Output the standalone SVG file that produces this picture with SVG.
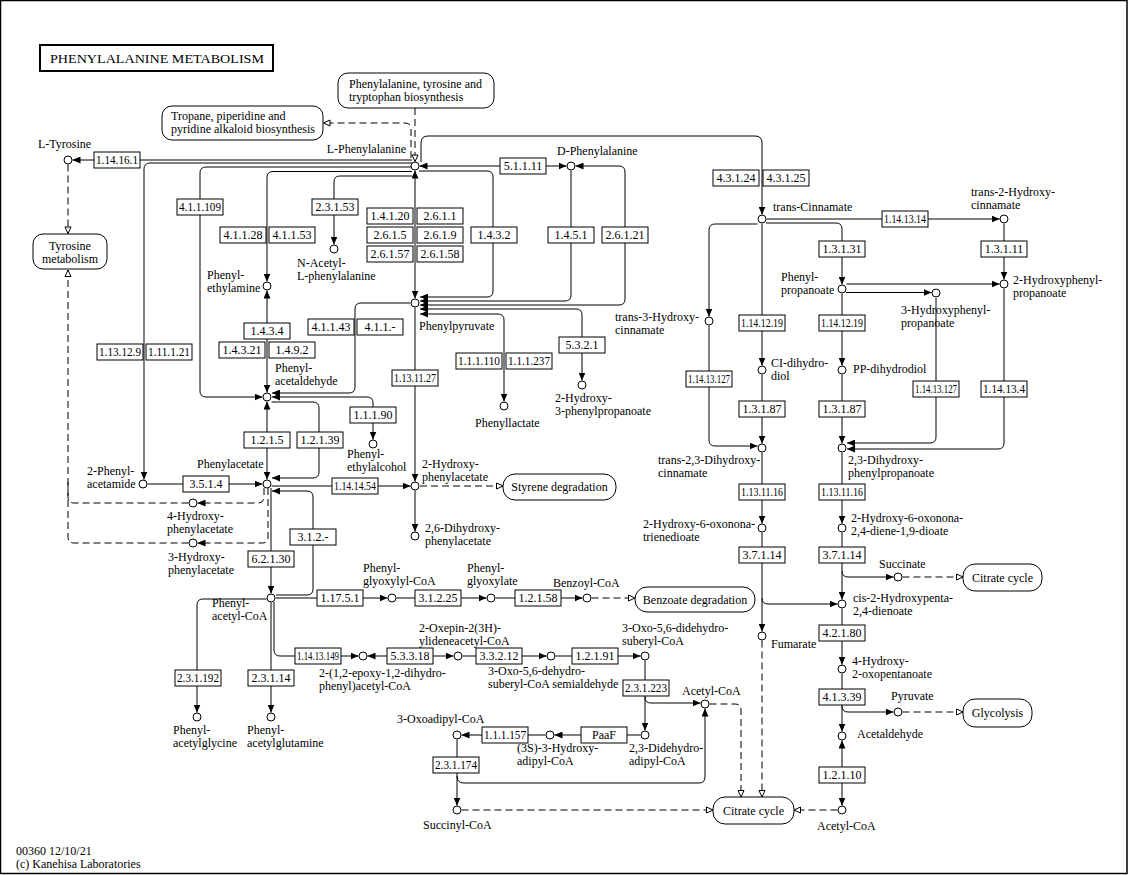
<svg xmlns="http://www.w3.org/2000/svg" width="1131" height="875" viewBox="0 0 1131 875">
<style>
text{font-family:"Liberation Serif","Times New Roman",serif;font-size:12px;fill:#000}
.s{fill:none;stroke:#000;stroke-width:1}
.d{stroke-dasharray:7,4}
.e{marker-end:url(#a)}
.b{marker-start:url(#a);marker-end:url(#a)}
.oe{marker-end:url(#o)}
.c{fill:#fff;stroke:#000;stroke-width:1}
.en{fill:#fff;stroke:#000;stroke-width:1}
.m{fill:#fff;stroke:#000;stroke-width:1}
.ct{text-anchor:middle}
</style>
<defs>
<marker id="a" viewBox="0 0 8 7" refX="8" refY="3.5" markerWidth="8" markerHeight="7" markerUnits="userSpaceOnUse" orient="auto-start-reverse"><path d="M0,0L8,3.5L0,7z" fill="#000"/></marker>
<marker id="o" viewBox="0 0 8 8" refX="7.5" refY="4" markerWidth="8" markerHeight="8" markerUnits="userSpaceOnUse" orient="auto"><path d="M1,1L7.5,4L1,7z" fill="#fff" stroke="#000" stroke-width="1"/></marker>
</defs>
<rect x="0.5" y="0.5" width="1126.5" height="873" fill="#fff" stroke="#000" stroke-width="1.5"/>
<g id="title"><rect x="40" y="45" width="233" height="26" fill="#fff" stroke="#000" stroke-width="2"/><text x="50" y="63" font-size="13" textLength="214" lengthAdjust="spacingAndGlyphs">PHENYLALANINE  METABOLISM</text></g>

<g id="connectors">
<path class="s e" d="M412,160H72.5"/>
<path class="s e" d="M412,163H150Q144,163 144,169V479.5"/>
<path class="s e" d="M412,167H206Q200,167 200,173V391Q200,397 206,397H262.5"/>
<path class="s e" d="M412,171.5H273Q267,171.5 267,177.5V281.5"/>
<path class="s e" d="M412,176H340Q334,176 334,182V244.5"/>
<path class="s b" d="M415,170.5V298.5"/>
<path class="s b" d="M419.5,166H566.5"/>
<path class="s e" d="M421,162V143Q421,136 428,136H755Q762,136 762,143V214.5"/>
<path class="s e" d="M419,171H487Q493,171 493,177V291Q493,297 487,297H420"/>
<path class="s e" d="M571,170.5V295Q571,301 565,301H420"/>
<path class="s b" d="M575.5,166H619Q625,166 625,172V299Q625,305 619,305H420"/>
<path class="s b" d="M420,309H576Q582,309 582,315V380.5"/>
<path class="s b" d="M420,314H498Q504,314 504,320V401.5"/>
<path class="s e" d="M410.5,303H361Q355,303 355,309V387Q355,393 349,393H272"/>
<path class="s b" d="M272,397H367Q373,397 373,403V439.5"/>
<path class="s e" d="M271.5,402H313Q319,402 319,408V472Q319,478 313,478H272"/>
<path class="s b" d="M267,290.5V392.5"/>
<path class="s b" d="M267,401.5V479.5"/>
<path class="s e" d="M147.5,484H262.5"/>
<path class="s e" d="M271.5,486H410.5"/>
<path class="s e" d="M276,595H307Q313,595 313,589V497Q313,491 307,491H272"/>
<path class="s e" d="M271,488V593.5"/>
<path class="s d e" d="M264,488V497Q264,503 258,503H197.5"/>
<path class="s d e" d="M268,488V537Q268,543 262,543H197.5"/>
<path class="s d oe" d="M188.5,543H74Q68,543 68,537V270"/>
<path class="s d" d="M188.5,503H74Q68,503 68,497V480"/>
<path class="s d oe" d="M68,164.5V233.5"/>
<path class="s d oe" d="M415,108V161.5"/>
<path class="s d oe" d="M411,158V129Q411,123 405,123H323.5"/>
<path class="s e" d="M415,307.5V481.5"/>
<path class="s d oe" d="M420,486H503"/>
<path class="s e" d="M415,490.5V531.5"/>
<path class="s e" d="M275.5,598H387.5"/>
<path class="s e" d="M396.5,598H486.5"/>
<path class="s e" d="M495.5,598H582.5"/>
<path class="s d oe" d="M591.5,598H635"/>
<path class="s e" d="M266.5,599H203Q197,599 197,605V712.5"/>
<path class="s e" d="M271,602.5V712.5"/>
<path class="s e" d="M274,602V650Q274,656 280,656H358.5"/>
<path class="s b" d="M367.5,656H453.5"/>
<path class="s e" d="M462.5,656H546.5"/>
<path class="s e" d="M555.5,656H640.5"/>
<path class="s e" d="M645,660.5V730.5"/>
<path class="s e" d="M645,697Q645,703 651,703H700.5"/>
<path class="s e" d="M640.5,735H554.5"/>
<path class="s e" d="M545.5,735H461.5"/>
<path class="s e" d="M457,739.5V805.5"/>
<path class="s e" d="M457,776Q457,783 464,783H699Q705,783 705,777V708.5"/>
<path class="s d oe" d="M461.5,810H713"/>
<path class="s d oe" d="M709.5,704H735Q741,704 741,710V797"/>
<path class="s d oe" d="M762,640.5V797"/>
<path class="s d oe" d="M837.5,810H794"/>
<path class="s e" d="M766.5,219H999.5"/>
<path class="s e" d="M766,223H836Q842,223 842,229V284.5"/>
<path class="s e" d="M757.5,224H715Q709,224 709,230V316.5"/>
<path class="s e" d="M762,223.5V365.5"/>
<path class="s e" d="M1004,223.5V279.5"/>
<path class="s e" d="M846.5,284H999.5"/>
<path class="s e" d="M846,292.5H931.5"/>
<path class="s e" d="M842,293.5V365.5"/>
<path class="s e" d="M762,374.5V443.5"/>
<path class="s e" d="M842,374.5V443.5"/>
<path class="s e" d="M709,325.5V440Q709,446 715,446H757.5"/>
<path class="s e" d="M936,298V437Q936,443 930,443H847"/>
<path class="s e" d="M1004,288.5V443Q1004,449 998,449H847"/>
<path class="s e" d="M762,452.5V523.5"/>
<path class="s e" d="M842,452.5V523.5"/>
<path class="s e" d="M762,532.5V631.5"/>
<path class="s e" d="M762,598Q762,604 768,604H837.5"/>
<path class="s e" d="M842,532.5V599.5"/>
<path class="s e" d="M842,571Q842,577 848,577H893.5"/>
<path class="s d oe" d="M902.5,577H963"/>
<path class="s e" d="M842,608.5V664.5"/>
<path class="s e" d="M842,673.5V731.5"/>
<path class="s e" d="M842,706Q842,712 848,712H893.5"/>
<path class="s d oe" d="M902.5,712H963"/>
<path class="s b" d="M842,740.5V805.5"/>
</g>

<g id="map_pheTyrTrp"><rect class="m" x="338" y="73" width="156" height="35" rx="10"/><text x="349" y="88">Phenylalanine, tyrosine and<tspan x="349" dy="13.4">tryptophan biosynthesis</tspan></text></g>
<g id="map_tropane"><rect class="m" x="162" y="106" width="161" height="34" rx="10"/><text x="171" y="119.5">Tropane, piperidine and<tspan x="171" dy="13.4">pyridine alkaloid biosynthesis</tspan></text></g>
<g id="map_tyrosine"><rect class="m" x="33" y="234" width="74" height="35" rx="10"/><text class="ct" x="70" y="249.5">Tyrosine<tspan x="70" dy="13.4">metabolism</tspan></text></g>
<g id="map_styrene"><rect class="m" x="503" y="474" width="113" height="26" rx="12"/><text class="ct" x="559.5" y="491">Styrene degradation</text></g>
<g id="map_benzoate"><rect class="m" x="635" y="587" width="120" height="25" rx="12"/><text class="ct" x="695" y="604">Benzoate degradation</text></g>
<g id="map_citrate1"><rect class="m" x="963" y="564" width="79" height="27" rx="12"/><text class="ct" x="1002.5" y="582">Citrate cycle</text></g>
<g id="map_glycolysis"><rect class="m" x="963" y="699" width="69" height="28" rx="12"/><text class="ct" x="997.5" y="717">Glycolysis</text></g>
<g id="map_citrate2"><rect class="m" x="713" y="797" width="81" height="27" rx="12"/><text class="ct" x="753.5" y="815">Citrate cycle</text></g>

<g id="ec_1.14.16.1"><rect class="en" x="94" y="152" width="46" height="16"/><text class="ct" x="117" y="164" textLength="42" lengthAdjust="spacingAndGlyphs">1.14.16.1</text></g>
<g id="ec_5.1.1.11"><rect class="en" x="500" y="158" width="46" height="16"/><text class="ct" x="523" y="170">5.1.1.11</text></g>
<g id="ec_4.3.1.24"><rect class="en" x="713" y="170" width="46" height="16"/><text class="ct" x="736" y="182">4.3.1.24</text></g>
<g id="ec_4.3.1.25"><rect class="en" x="763" y="170" width="46" height="16"/><text class="ct" x="786" y="182">4.3.1.25</text></g>
<g id="ec_1.14.13.14"><rect class="en" x="882" y="211" width="46" height="16"/><text class="ct" x="905" y="223" textLength="42" lengthAdjust="spacingAndGlyphs">1.14.13.14</text></g>
<g id="ec_4.1.1.109"><rect class="en" x="177" y="199" width="46" height="16"/><text class="ct" x="200" y="211" textLength="42" lengthAdjust="spacingAndGlyphs">4.1.1.109</text></g>
<g id="ec_2.3.1.53"><rect class="en" x="312" y="199" width="46" height="16"/><text class="ct" x="335" y="211">2.3.1.53</text></g>
<g id="ec_4.1.1.28"><rect class="en" x="220" y="227" width="46" height="16"/><text class="ct" x="243" y="239">4.1.1.28</text></g>
<g id="ec_4.1.1.53"><rect class="en" x="269" y="227" width="46" height="16"/><text class="ct" x="292" y="239">4.1.1.53</text></g>
<g id="ec_1.4.1.20"><rect class="en" x="367" y="208" width="46" height="16"/><text class="ct" x="390" y="220">1.4.1.20</text></g>
<g id="ec_2.6.1.1"><rect class="en" x="417" y="208" width="46" height="16"/><text class="ct" x="440" y="220">2.6.1.1</text></g>
<g id="ec_2.6.1.5"><rect class="en" x="367" y="227" width="46" height="16"/><text class="ct" x="390" y="239">2.6.1.5</text></g>
<g id="ec_2.6.1.9"><rect class="en" x="417" y="227" width="46" height="16"/><text class="ct" x="440" y="239">2.6.1.9</text></g>
<g id="ec_2.6.1.57"><rect class="en" x="367" y="246" width="46" height="16"/><text class="ct" x="390" y="258">2.6.1.57</text></g>
<g id="ec_2.6.1.58"><rect class="en" x="417" y="246" width="46" height="16"/><text class="ct" x="440" y="258">2.6.1.58</text></g>
<g id="ec_1.4.3.2"><rect class="en" x="471" y="227" width="46" height="16"/><text class="ct" x="494" y="239">1.4.3.2</text></g>
<g id="ec_1.4.5.1"><rect class="en" x="548" y="227" width="46" height="16"/><text class="ct" x="571" y="239">1.4.5.1</text></g>
<g id="ec_2.6.1.21"><rect class="en" x="602" y="227" width="46" height="16"/><text class="ct" x="625" y="239">2.6.1.21</text></g>
<g id="ec_1.3.1.31"><rect class="en" x="819" y="241" width="46" height="16"/><text class="ct" x="842" y="253">1.3.1.31</text></g>
<g id="ec_1.3.1.11"><rect class="en" x="981" y="241" width="46" height="16"/><text class="ct" x="1004" y="253">1.3.1.11</text></g>
<g id="ec_1.14.12.19a"><rect class="en" x="739" y="315" width="46" height="16"/><text class="ct" x="762" y="327" textLength="42" lengthAdjust="spacingAndGlyphs">1.14.12.19</text></g>
<g id="ec_1.14.12.19b"><rect class="en" x="819" y="315" width="46" height="16"/><text class="ct" x="842" y="327" textLength="42" lengthAdjust="spacingAndGlyphs">1.14.12.19</text></g>
<g id="ec_1.14.13.127a"><rect class="en" x="686" y="371" width="46" height="16"/><text class="ct" x="709" y="383" textLength="42" lengthAdjust="spacingAndGlyphs">1.14.13.127</text></g>
<g id="ec_1.14.13.127b"><rect class="en" x="913" y="381" width="46" height="16"/><text class="ct" x="936" y="393" textLength="42" lengthAdjust="spacingAndGlyphs">1.14.13.127</text></g>
<g id="ec_1.14.13.4"><rect class="en" x="981" y="381" width="46" height="16"/><text class="ct" x="1004" y="393" textLength="42" lengthAdjust="spacingAndGlyphs">1.14.13.4</text></g>
<g id="ec_1.3.1.87a"><rect class="en" x="739" y="401" width="46" height="16"/><text class="ct" x="762" y="413">1.3.1.87</text></g>
<g id="ec_1.3.1.87b"><rect class="en" x="819" y="401" width="46" height="16"/><text class="ct" x="842" y="413">1.3.1.87</text></g>
<g id="ec_1.13.12.9"><rect class="en" x="97" y="344" width="46" height="16"/><text class="ct" x="120" y="356" textLength="42" lengthAdjust="spacingAndGlyphs">1.13.12.9</text></g>
<g id="ec_1.11.1.21"><rect class="en" x="146" y="344" width="46" height="16"/><text class="ct" x="169" y="356" textLength="42" lengthAdjust="spacingAndGlyphs">1.11.1.21</text></g>
<g id="ec_1.4.3.4"><rect class="en" x="244" y="323" width="46" height="16"/><text class="ct" x="267" y="335">1.4.3.4</text></g>
<g id="ec_1.4.3.21"><rect class="en" x="219" y="342" width="46" height="16"/><text class="ct" x="242" y="354">1.4.3.21</text></g>
<g id="ec_1.4.9.2"><rect class="en" x="269" y="342" width="46" height="16"/><text class="ct" x="292" y="354">1.4.9.2</text></g>
<g id="ec_4.1.1.43"><rect class="en" x="308" y="319" width="46" height="16"/><text class="ct" x="331" y="331">4.1.1.43</text></g>
<g id="ec_4.1.1.-"><rect class="en" x="357" y="319" width="46" height="16"/><text class="ct" x="380" y="331">4.1.1.-</text></g>
<g id="ec_1.13.11.27"><rect class="en" x="392" y="370" width="46" height="16"/><text class="ct" x="415" y="382" textLength="42" lengthAdjust="spacingAndGlyphs">1.13.11.27</text></g>
<g id="ec_1.1.1.90"><rect class="en" x="350" y="407" width="46" height="16"/><text class="ct" x="373" y="419">1.1.1.90</text></g>
<g id="ec_1.2.1.5"><rect class="en" x="244" y="432" width="46" height="16"/><text class="ct" x="267" y="444">1.2.1.5</text></g>
<g id="ec_1.2.1.39"><rect class="en" x="297" y="432" width="46" height="16"/><text class="ct" x="320" y="444">1.2.1.39</text></g>
<g id="ec_1.1.1.110"><rect class="en" x="456" y="353" width="46" height="16"/><text class="ct" x="479" y="365" textLength="42" lengthAdjust="spacingAndGlyphs">1.1.1.110</text></g>
<g id="ec_1.1.1.237"><rect class="en" x="506" y="353" width="46" height="16"/><text class="ct" x="529" y="365" textLength="42" lengthAdjust="spacingAndGlyphs">1.1.1.237</text></g>
<g id="ec_5.3.2.1"><rect class="en" x="559" y="337" width="46" height="16"/><text class="ct" x="582" y="349">5.3.2.1</text></g>
<g id="ec_3.5.1.4"><rect class="en" x="183" y="476" width="46" height="16"/><text class="ct" x="206" y="488">3.5.1.4</text></g>
<g id="ec_1.14.14.54"><rect class="en" x="332" y="478" width="46" height="16"/><text class="ct" x="355" y="490" textLength="42" lengthAdjust="spacingAndGlyphs">1.14.14.54</text></g>
<g id="ec_3.1.2.-"><rect class="en" x="290" y="529" width="46" height="16"/><text class="ct" x="313" y="541">3.1.2.-</text></g>
<g id="ec_6.2.1.30"><rect class="en" x="248" y="551" width="46" height="16"/><text class="ct" x="271" y="563">6.2.1.30</text></g>
<g id="ec_1.17.5.1"><rect class="en" x="317" y="590" width="46" height="16"/><text class="ct" x="340" y="602">1.17.5.1</text></g>
<g id="ec_3.1.2.25"><rect class="en" x="415" y="590" width="46" height="16"/><text class="ct" x="438" y="602">3.1.2.25</text></g>
<g id="ec_1.2.1.58"><rect class="en" x="515" y="590" width="46" height="16"/><text class="ct" x="538" y="602">1.2.1.58</text></g>
<g id="ec_1.14.13.149"><rect class="en" x="295" y="648" width="46" height="16"/><text class="ct" x="318" y="660" textLength="42" lengthAdjust="spacingAndGlyphs">1.14.13.149</text></g>
<g id="ec_5.3.3.18"><rect class="en" x="387" y="648" width="46" height="16"/><text class="ct" x="410" y="660">5.3.3.18</text></g>
<g id="ec_3.3.2.12"><rect class="en" x="476" y="648" width="46" height="16"/><text class="ct" x="499" y="660">3.3.2.12</text></g>
<g id="ec_1.2.1.91"><rect class="en" x="572" y="648" width="46" height="16"/><text class="ct" x="595" y="660">1.2.1.91</text></g>
<g id="ec_2.3.1.223"><rect class="en" x="623" y="680" width="46" height="16"/><text class="ct" x="646" y="692" textLength="42" lengthAdjust="spacingAndGlyphs">2.3.1.223</text></g>
<g id="ec_PaaF"><rect class="en" x="581" y="727" width="46" height="16"/><text class="ct" x="604" y="739">PaaF</text></g>
<g id="ec_1.1.1.157"><rect class="en" x="482" y="727" width="46" height="16"/><text class="ct" x="505" y="739" textLength="42" lengthAdjust="spacingAndGlyphs">1.1.1.157</text></g>
<g id="ec_2.3.1.174"><rect class="en" x="433" y="757" width="46" height="16"/><text class="ct" x="456" y="769" textLength="42" lengthAdjust="spacingAndGlyphs">2.3.1.174</text></g>
<g id="ec_2.3.1.192"><rect class="en" x="175" y="670" width="46" height="16"/><text class="ct" x="198" y="682" textLength="42" lengthAdjust="spacingAndGlyphs">2.3.1.192</text></g>
<g id="ec_2.3.1.14"><rect class="en" x="248" y="670" width="46" height="16"/><text class="ct" x="271" y="682">2.3.1.14</text></g>
<g id="ec_1.13.11.16a"><rect class="en" x="739" y="484" width="46" height="16"/><text class="ct" x="762" y="496" textLength="42" lengthAdjust="spacingAndGlyphs">1.13.11.16</text></g>
<g id="ec_1.13.11.16b"><rect class="en" x="819" y="484" width="46" height="16"/><text class="ct" x="842" y="496" textLength="42" lengthAdjust="spacingAndGlyphs">1.13.11.16</text></g>
<g id="ec_3.7.1.14a"><rect class="en" x="739" y="547" width="46" height="16"/><text class="ct" x="762" y="559">3.7.1.14</text></g>
<g id="ec_3.7.1.14b"><rect class="en" x="819" y="547" width="46" height="16"/><text class="ct" x="842" y="559">3.7.1.14</text></g>
<g id="ec_4.2.1.80"><rect class="en" x="819" y="625" width="46" height="16"/><text class="ct" x="842" y="637">4.2.1.80</text></g>
<g id="ec_4.1.3.39"><rect class="en" x="819" y="689" width="46" height="16"/><text class="ct" x="842" y="701">4.1.3.39</text></g>
<g id="ec_1.2.1.10"><rect class="en" x="819" y="767" width="46" height="16"/><text class="ct" x="842" y="779">1.2.1.10</text></g>

<g id="c_LTyr"><circle class="c" cx="68" cy="160" r="4"/><text x="38" y="148">L-Tyrosine</text></g>
<g id="c_LPhe"><circle class="c" cx="415" cy="166" r="4"/><text x="406" y="153" text-anchor="end">L-Phenylalanine</text></g>
<g id="c_DPhe"><circle class="c" cx="571" cy="166" r="4"/><text x="557" y="155">D-Phenylalanine</text></g>
<g id="c_PEA"><circle class="c" cx="267" cy="286" r="4"/><text x="207" y="279">Phenyl-<tspan x="207" dy="13.4">ethylamine</tspan></text></g>
<g id="c_NAc"><circle class="c" cx="334" cy="249" r="4"/><text x="297" y="266.5">N-Acetyl-<tspan x="297" dy="13.4">L-phenylalanine</tspan></text></g>
<g id="c_PPy"><circle class="c" cx="415" cy="303" r="4"/><text x="419" y="330">Phenylpyruvate</text></g>
<g id="c_PAld"><circle class="c" cx="267" cy="397" r="4"/><text x="275" y="371.5">Phenyl-<tspan x="275" dy="13.4">acetaldehyde</tspan></text></g>
<g id="c_PEtOH"><circle class="c" cx="373" cy="444" r="4"/><text x="347" y="457.5">Phenyl-<tspan x="347" dy="13.4">ethylalcohol</tspan></text></g>
<g id="c_PAc"><circle class="c" cx="267" cy="484" r="4"/><text x="197" y="468">Phenylacetate</text></g>
<g id="c_PAm"><circle class="c" cx="143" cy="484" r="4"/><text x="87" y="474.5">2-Phenyl-<tspan x="87" dy="13.4">acetamide</tspan></text></g>
<g id="c_4HPA"><circle class="c" cx="193" cy="503" r="4"/><text x="167" y="519.5">4-Hydroxy-<tspan x="167" dy="13.4">phenylacetate</tspan></text></g>
<g id="c_3HPA"><circle class="c" cx="193" cy="543" r="4"/><text x="168" y="560.5">3-Hydroxy-<tspan x="168" dy="13.4">phenylacetate</tspan></text></g>
<g id="c_2HPA"><circle class="c" cx="415" cy="486" r="4"/><text x="422" y="467.5">2-Hydroxy-<tspan x="422" dy="13.4">phenylacetate</tspan></text></g>
<g id="c_26DHPA"><circle class="c" cx="415" cy="536" r="4"/><text x="425" y="531.5">2,6-Dihydroxy-<tspan x="425" dy="13.4">phenylacetate</tspan></text></g>
<g id="c_PLac"><circle class="c" cx="504" cy="406" r="4"/><text x="475" y="427">Phenyllactate</text></g>
<g id="c_H3PP"><circle class="c" cx="582" cy="385" r="4"/><text x="555" y="402">2-Hydroxy-<tspan x="555" dy="13.4">3-phenylpropanoate</tspan></text></g>
<g id="c_PACoA"><circle class="c" cx="271" cy="598" r="4"/><text x="212" y="606.5">Phenyl-<tspan x="212" dy="13.4">acetyl-CoA</tspan></text></g>
<g id="c_PGCoA"><circle class="c" cx="392" cy="598" r="4"/><text x="363" y="571.5">Phenyl-<tspan x="363" dy="13.4">glyoxylyl-CoA</tspan></text></g>
<g id="c_PGlx"><circle class="c" cx="491" cy="598" r="4"/><text x="467" y="571.5">Phenyl-<tspan x="467" dy="13.4">glyoxylate</tspan></text></g>
<g id="c_BzCoA"><circle class="c" cx="587" cy="598" r="4"/><text x="553" y="587">Benzoyl-CoA</text></g>
<g id="c_Epoxy"><circle class="c" cx="363" cy="656" r="4"/><text x="319" y="676.5">2-(1,2-epoxy-1,2-dihydro-<tspan x="319" dy="13.4">phenyl)acetyl-CoA</tspan></text></g>
<g id="c_Oxepin"><circle class="c" cx="458" cy="656" r="4"/><text x="419" y="631.5">2-Oxepin-2(3H)-<tspan x="419" dy="13.4">ylideneacetyl-CoA</tspan></text></g>
<g id="c_Semi"><circle class="c" cx="551" cy="656" r="4"/><text x="488" y="674.5">3-Oxo-5,6-dehydro-<tspan x="488" dy="13.4">suberyl-CoA semialdehyde</tspan></text></g>
<g id="c_DDSub"><circle class="c" cx="645" cy="656" r="4"/><text x="622" y="631.5">3-Oxo-5,6-didehydro-<tspan x="622" dy="13.4">suberyl-CoA</tspan></text></g>
<g id="c_DDAd"><circle class="c" cx="645" cy="735" r="4"/><text x="629" y="751.5">2,3-Didehydro-<tspan x="629" dy="13.4">adipyl-CoA</tspan></text></g>
<g id="c_HAd"><circle class="c" cx="550" cy="735" r="4"/><text x="517" y="751.5">(3S)-3-Hydroxy-<tspan x="517" dy="13.4">adipyl-CoA</tspan></text></g>
<g id="c_OxoAd"><circle class="c" cx="457" cy="735" r="4"/><text x="397" y="723">3-Oxoadipyl-CoA</text></g>
<g id="c_SucCoA"><circle class="c" cx="457" cy="810" r="4"/><text x="423" y="829">Succinyl-CoA</text></g>
<g id="c_AcCoA1"><circle class="c" cx="705" cy="704" r="4"/><text x="682" y="695">Acetyl-CoA</text></g>
<g id="c_PAGly"><circle class="c" cx="197" cy="717" r="4"/><text x="173" y="733.5">Phenyl-<tspan x="173" dy="13.4">acetylglycine</tspan></text></g>
<g id="c_PAGln"><circle class="c" cx="271" cy="717" r="4"/><text x="247" y="733.5">Phenyl-<tspan x="247" dy="13.4">acetylglutamine</tspan></text></g>
<g id="c_tCin"><circle class="c" cx="762" cy="219" r="4"/><text x="773" y="211">trans-Cinnamate</text></g>
<g id="c_t2HC"><circle class="c" cx="1004" cy="219" r="4"/><text x="971" y="195.5">trans-2-Hydroxy-<tspan x="971" dy="13.4">cinnamate</tspan></text></g>
<g id="c_PPa"><circle class="c" cx="842" cy="289" r="4"/><text x="781" y="281">Phenyl-<tspan x="781" dy="13.4">propanoate</tspan></text></g>
<g id="c_3HPP"><circle class="c" cx="936" cy="293" r="4"/><text x="901" y="313.5">3-Hydroxyphenyl-<tspan x="901" dy="13.4">propanoate</tspan></text></g>
<g id="c_2HPP"><circle class="c" cx="1004" cy="284" r="4"/><text x="1013" y="283.5">2-Hydroxyphenyl-<tspan x="1013" dy="13.4">propanoate</tspan></text></g>
<g id="c_t3HC"><circle class="c" cx="709" cy="321" r="4"/><text x="615" y="320.5">trans-3-Hydroxy-<tspan x="615" dy="13.4">cinnamate</tspan></text></g>
<g id="c_CIdd"><circle class="c" cx="762" cy="370" r="4"/><text x="771" y="366.5">CI-dihydro-<tspan x="771" dy="13.4">diol</tspan></text></g>
<g id="c_PPdd"><circle class="c" cx="842" cy="370" r="4"/><text x="853" y="373">PP-dihydrodiol</text></g>
<g id="c_t23DHC"><circle class="c" cx="762" cy="448" r="4"/><text x="658" y="463.5">trans-2,3-Dihydroxy-<tspan x="658" dy="13.4">cinnamate</tspan></text></g>
<g id="c_DHPP"><circle class="c" cx="842" cy="448" r="4"/><text x="848" y="463.5">2,3-Dihydroxy-<tspan x="848" dy="13.4">phenylpropanoate</tspan></text></g>
<g id="c_HOTD"><circle class="c" cx="762" cy="528" r="4"/><text x="643" y="527.5">2-Hydroxy-6-oxonona-<tspan x="643" dy="13.4">trienedioate</tspan></text></g>
<g id="c_HODD"><circle class="c" cx="842" cy="528" r="4"/><text x="851" y="521.5">2-Hydroxy-6-oxonona-<tspan x="851" dy="13.4">2,4-diene-1,9-dioate</tspan></text></g>
<g id="c_Succ"><circle class="c" cx="898" cy="577" r="4"/><text x="879" y="568">Succinate</text></g>
<g id="c_cis2HP"><circle class="c" cx="842" cy="604" r="4"/><text x="853" y="601.5">cis-2-Hydroxypenta-<tspan x="853" dy="13.4">2,4-dienoate</tspan></text></g>
<g id="c_Fum"><circle class="c" cx="762" cy="636" r="4"/><text x="771" y="648">Fumarate</text></g>
<g id="c_HOP"><circle class="c" cx="842" cy="669" r="4"/><text x="852" y="664.5">4-Hydroxy-<tspan x="852" dy="13.4">2-oxopentanoate</tspan></text></g>
<g id="c_Pyr"><circle class="c" cx="898" cy="712" r="4"/><text x="891" y="700">Pyruvate</text></g>
<g id="c_Acald"><circle class="c" cx="842" cy="736" r="4"/><text x="857" y="738">Acetaldehyde</text></g>
<g id="c_AcCoA2"><circle class="c" cx="842" cy="810" r="4"/><text x="817" y="830">Acetyl-CoA</text></g>

<g id="footer"><text x="16" y="854.5">00360 12/10/21<tspan x="16" dy="13.4">(c) Kanehisa Laboratories</tspan></text></g>
</svg>
